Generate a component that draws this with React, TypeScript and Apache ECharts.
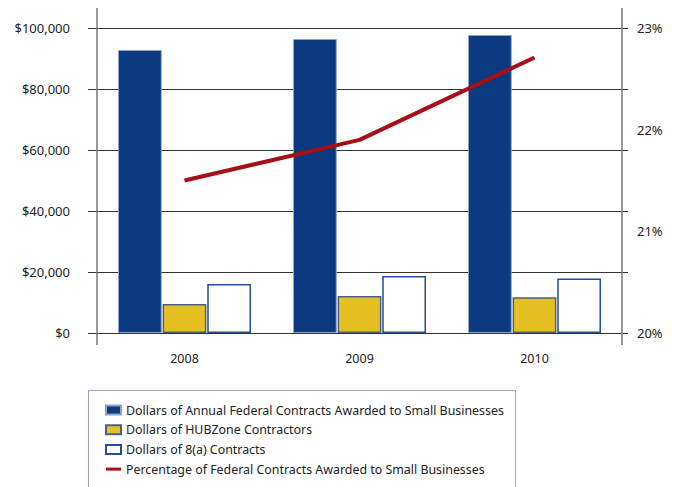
import React, { useEffect, useRef } from "react";
import * as echarts from "echarts";

const years = ["2008", "2009", "2010"];
const annualSmallBiz = [92800, 96400, 97700];
const hubZone = [9500, 12100, 11700];
const eightA = [16100, 18700, 17900];
const pctSmallBiz = [21.5, 21.9, 22.71];

const names = [
  "Dollars of Annual Federal Contracts Awarded to Small Businesses",
  "Dollars of HUBZone Contractors",
  "Dollars of 8(a) Contracts",
  "Percentage of Federal Contracts Awarded to Small Businesses",
];

const FONT = "Noto Sans";

export default function App() {
  const ref = useRef<HTMLDivElement>(null);
  useEffect(() => {
    if (!ref.current) return;
    const chart = echarts.init(ref.current, null, { renderer: "svg" });
    chart.setOption({
      animation: false,
      textStyle: { fontFamily: FONT },
      grid: { left: 97, right: 55, top: 28, bottom: 154, containLabel: false },
      xAxis: {
        type: "category",
        data: years,
        axisLine: { show: false },
        axisTick: { show: false },
        axisLabel: { color: "#222", fontSize: 12.5, margin: 19 },
      },
      yAxis: [
        {
          type: "value",
          min: 0,
          max: 100000,
          interval: 20000,
          position: "left",
          axisLine: { show: false },
          axisTick: { show: true, inside: false, length: 9, lineStyle: { color: "#333" } },
          splitLine: { show: true, lineStyle: { color: "#333", width: 1 } },
          axisLabel: {
            color: "#222",
            fontSize: 13,
            margin: 27,
            formatter: (v: number) => "$" + v.toLocaleString("en-US"),
          },
        },
        {
          type: "value",
          min: 20,
          max: 23,
          interval: 1,
          position: "right",
          axisLine: { show: false },
          axisTick: { show: false },
          splitLine: { show: false },
          axisLabel: { color: "#222", fontSize: 13, margin: 15, formatter: "{value}%" },
        },
        {
          type: "value",
          min: 0,
          max: 100000,
          interval: 20000,
          position: "right",
          axisLine: { show: false },
          axisTick: { show: true, inside: false, length: 6, lineStyle: { color: "#333" } },
          splitLine: { show: false },
          axisLabel: { show: false },
        },
      ],
      legend: {
        orient: "vertical",
        left: 100,
        top: 399,
        itemWidth: 15,
        itemHeight: 9,
        itemGap: 7.7,
        textStyle: { color: "#222", fontSize: 12.4, fontFamily: FONT },
        data: [
          { name: names[0], icon: "rect" },
          { name: names[1], icon: "rect" },
          { name: names[2], icon: "rect" },
          { name: names[3], icon: "path://M0,0H30V6H0Z" },
        ],
      },
      series: [
        {
          name: names[0],
          type: "bar",
          data: annualSmallBiz,
          barCategoryGap: "24%",
          barGap: "2%",
          itemStyle: { color: "#0B3A80", borderColor: "#8fa3c4", borderWidth: 1 },
        },
        {
          name: names[1],
          type: "bar",
          data: hubZone,
          itemStyle: { color: "#E5C022", borderColor: "#4a5f86", borderWidth: 1.5 },
        },
        {
          name: names[2],
          type: "bar",
          data: eightA,
          itemStyle: { color: "#ffffff", borderColor: "#1F4E9A", borderWidth: 1.5 },
        },
        {
          name: names[3],
          type: "line",
          yAxisIndex: 1,
          data: pctSmallBiz,
          symbol: "none",
          lineStyle: { color: "#A50F15", width: 4 },
          itemStyle: { color: "#A50F15" },
        },
      ],
      graphic: [
        { type: "line", shape: { x1: 97, y1: 8, x2: 97, y2: 345 }, style: { stroke: "#777", lineWidth: 1.5 }, z: 10 },
        { type: "line", shape: { x1: 622, y1: 8, x2: 622, y2: 345 }, style: { stroke: "#777", lineWidth: 1.5 }, z: 10 },
        {
          type: "rect",
          shape: { x: 88.5, y: 390.5, width: 427, height: 100 },
          style: { fill: "none", stroke: "#9aa6c8", lineWidth: 1 },
          z: -1,
        },
      ],
    });
    return () => chart.dispose();
  }, []);
  return <div ref={ref} style={{ width: 677, height: 487, position: "absolute", left: 0, top: 0 }} />;
}
